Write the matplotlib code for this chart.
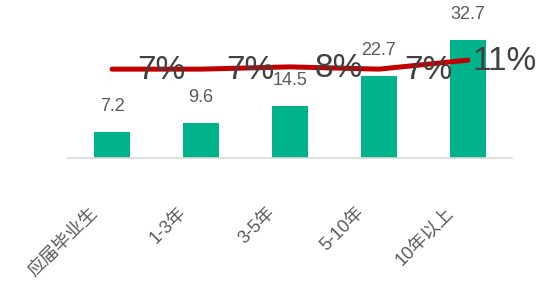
import matplotlib.pyplot as plt
import matplotlib.transforms as mtransforms
import numpy as np

plt.rcParams['font.family'] = ['Liberation Sans', 'Noto Sans CJK SC', 'DejaVu Sans']

# 数据
categories = ['应届毕业生', '1-3年', '3-5年', '5-10年', '10年以上']
salary = [7.2, 9.6, 14.5, 22.7, 32.7]
share = [0.07, 0.07, 0.08, 0.07, 0.11]
share_labels = ['7%', '7%', '8%', '7%', '11%']

x = np.arange(len(categories))

fig = plt.figure(figsize=(5.36, 2.82), dpi=100)
ax = fig.add_axes([0.126, 0.44, 0.83, 0.525])

bars = ax.bar(x, salary, 0.4, color='#00b38a', zorder=2)
ax.set_xlim(-0.5, 4.5)
ax.set_ylim(0, 41)

# 柱子数值
for rect, v in zip(bars, salary):
    ax.annotate(f'{v}', xy=(rect.get_x() + rect.get_width() / 2, rect.get_height()),
                xytext=(0, 15), textcoords='offset points',
                ha='center', va='baseline', fontsize=13, color='#595959')

for s in ['top', 'right', 'left']:
    ax.spines[s].set_visible(False)
ax.spines['bottom'].set_color('#d9d9d9')
ax.spines['bottom'].set_linewidth(1.2)
ax.set_yticks([])

ax.set_xticks(x)
ax.set_xticklabels(categories, rotation=45, ha='right', va='center',
                   rotation_mode='anchor', fontsize=13, color='#595959')
ax.tick_params(axis='x', length=0, pad=0)
offset = mtransforms.ScaledTranslation(-0.17, -0.52, fig.dpi_scale_trans)
for label in ax.get_xticklabels():
    label.set_transform(label.get_transform() + offset)

# 折线（次坐标轴）
ax2 = ax.twinx()
ax2.plot(x, share, color='#c00000', linewidth=3.6, solid_capstyle='round', zorder=3)
ax2.set_ylim(-0.324, 0.333)
ax2.axis('off')

label_dx = [18, 18, 18, 18, 3]
for xi, yi, t, dx in zip(x, share, share_labels, label_dx):
    ax2.annotate(t, xy=(xi, yi), xytext=(dx, -1), textcoords='offset points',
                 ha='left', va='center', fontsize=24, color='#404040')

fig.savefig('out.png', dpi=100)
